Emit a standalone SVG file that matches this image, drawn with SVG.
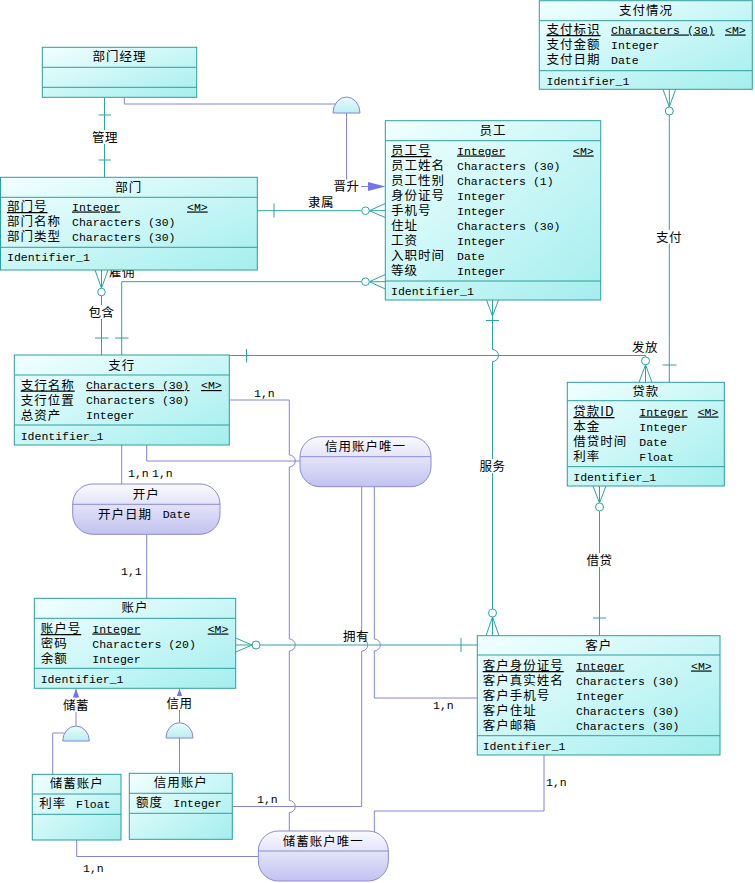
<svg xmlns="http://www.w3.org/2000/svg" width="755" height="883" viewBox="0 0 755 883">
<defs>
<linearGradient id="ge" x1="0" y1="0" x2="1" y2="1">
<stop offset="0" stop-color="#f2ffff"/>
<stop offset="1" stop-color="#a4eeee"/>
</linearGradient>
<linearGradient id="ga" x1="0" y1="0" x2="0" y2="1">
<stop offset="0" stop-color="#fafaff"/>
<stop offset="1" stop-color="#c2c2f0"/>
</linearGradient>
<linearGradient id="gd" x1="0" y1="0" x2="0" y2="1">
<stop offset="0" stop-color="#e8fcfd"/>
<stop offset="1" stop-color="#bceef2"/>
</linearGradient>
</defs>
<style>
.e{fill:url(#ge);stroke:#2e9e9e;stroke-width:1}
.d{stroke:#2e9e9e;stroke-width:1}
.a{fill:url(#ga);stroke:#8a8ad6;stroke-width:1}
.ad{stroke:#8a8ad6;stroke-width:1}
.t{stroke:#2ea3a3;fill:none;stroke-width:1}
.p{stroke:#8484dc;fill:none;stroke-width:1}
.c{fill:#fff;stroke:#2ea3a3;stroke-width:1}
.dome{fill:url(#gd);stroke:#8484dc;stroke-width:1}
.arr{fill:#7373ee;stroke:none}
.bg{fill:#fff;stroke:none}
.cn{font-family:"Noto Sans CJK SC","Noto Sans CJK JP",sans-serif;font-size:12.5px;letter-spacing:1px;fill:#000}
.lb{font-family:"Noto Sans CJK SC","Noto Sans CJK JP",sans-serif;font-size:12.5px;letter-spacing:0.5px;fill:#000}
.m{font-family:"Liberation Mono","DejaVu Sans Mono",monospace;font-size:11.5px;fill:#000}
.u{text-decoration:underline}
.mid{text-anchor:middle}
</style>

<g id="connectors">
<!-- 管理 -->
<path class="t" d="M104.5,97.3 V177.3 M98.5,115 H111 M98.5,160 H111"/>
<!-- 隶属 -->
<path class="t" d="M257.3,210.7 H361.7 M274,203.5 V217.5 M369.3,210.7 L385.3,203.5 M369.3,210.7 H385.3 M369.3,210.7 L385.3,217.5"/>
<circle class="c" cx="365.5" cy="210.7" r="3.8"/>
<!-- 雇佣 -->
<path class="t" d="M121.7,355 V281.7 H361.7 M115,338 H128.5 M369.3,281.7 L385.3,274.5 M369.3,281.7 H385.3 M369.3,281.7 L385.3,289"/>
<circle class="c" cx="365.5" cy="281.7" r="3.8"/>
<text class="lb" x="109" y="276.5">雇佣</text>
<!-- 包含 -->
<path class="t" d="M101.5,355 V295.8 M101.5,288.2 L95,270 M101.5,288.2 V270 M101.5,288.2 L108,270 M95,338 H108.5"/>
<circle class="c" cx="101.5" cy="292" r="3.8"/>
<!-- 发放 -->
<path class="t" d="M229.3,355.5 H645.5 V356.8 M246.5,349 V362.5 M645.5,364.8 L639,382.3 M645.5,364.8 V382.3 M645.5,364.8 L652,382.3"/>
<circle class="c" cx="645.5" cy="360.8" r="4"/>
<!-- 支付 -->
<path class="t" d="M663,89.3 L669.3,107 M669.3,89.3 V107 M675.6,89.3 L669.3,107 M669.3,115 V382.3 M662.5,365 H676.5"/>
<circle class="c" cx="669.3" cy="111" r="4"/>
<!-- 借贷 -->
<path class="t" d="M593,486 L599.5,503 M599.5,486 V503 M606,486 L599.5,503 M599.5,511 V635.7 M593,618 H606"/>
<circle class="c" cx="599.5" cy="507" r="4"/>
<!-- 服务 -->
<path class="t" d="M486.5,300 L492.5,316 M492.5,300 V316 M498.5,300 L492.5,316 M492.5,316 V349.5 A6,6 0 0 1 492.5,361.5 V609 M486,320.5 H499 M492.5,617 L486,635.7 M492.5,617 V635.7 M492.5,617 L499,635.7"/>
<circle class="c" cx="492.5" cy="613" r="4"/>
<!-- 拥有 -->
<path class="t" d="M235.7,638 L252,645 M235.7,645 H252 M235.7,652 L252,645 M260,645 H477.3 M461,638 V652"/>
<circle class="c" cx="256" cy="645" r="4"/>

<!-- 晋升 -->
<path class="p" d="M124.3,97.3 V104 H336.5 M346.5,113 V186.5 H369"/>
<path class="dome" d="M333,113 A13.5,16 0 0 1 360,113 Z"/>
<polygon class="arr" points="368,182 385.3,186.5 368,191"/>
<!-- 储蓄 -->
<path class="p" d="M76,689 V726 M64.5,733 H52.7 V774.3"/>
<path class="dome" d="M62.7,741 A13.3,15 0 0 1 89.3,741 Z"/>
<polygon class="arr" points="72.8,697.5 76,688.8 79.2,697.5"/>
<!-- 信用 -->
<path class="p" d="M179.5,689 V723 M179.5,738 V773.3"/>
<path class="dome" d="M166,738 A13.5,15.3 0 0 1 193,738 Z"/>
<polygon class="arr" points="176.3,697.5 179.5,688.8 182.7,697.5"/>

<!-- 开户 -->
<path class="p" d="M121.7,445 V484 M146.7,534.3 V598.3"/>
<!-- 支行-储蓄账户唯一 -->
<path class="p" d="M229.3,400 H289.3 V455 A6,6 0 0 1 289.3,467 V639 A6,6 0 0 1 289.3,651 V800.5 A6,6 0 0 1 289.3,812.5 V831"/>
<!-- 支行-信用账户唯一 -->
<path class="p" d="M146.7,445 V461 H300"/>
<!-- 信用账户-信用账户唯一 -->
<path class="p" d="M232.3,806.5 H361.7 V651 A6,6 0 0 0 361.7,639 V486.7"/>
<!-- 客户-信用账户唯一 -->
<path class="p" d="M477.3,698 H374.3 V651 A6,6 0 0 0 374.3,639 V486.7"/>
<!-- 客户-储蓄账户唯一 -->
<path class="p" d="M544,755 V811 H374.3 V832"/>
<!-- 储蓄账户-储蓄账户唯一 -->
<path class="p" d="M76.7,840 V856.5 H258.3"/>

<!-- labels -->
<rect class="bg" x="91" y="130" width="28" height="14"/>
<text class="lb mid" x="105" y="141.5">管理</text>
<text class="lb mid" x="321" y="206.5">隶属</text>
<rect class="bg" x="333" y="179.5" width="28" height="14"/>
<text class="lb mid" x="346.5" y="191">晋升</text>
<rect class="bg" x="88" y="305" width="28" height="14"/>
<text class="lb mid" x="101.5" y="317">包含</text>
<rect class="bg" x="655" y="230" width="28" height="14"/>
<text class="lb mid" x="669" y="241.5">支付</text>
<text class="lb mid" x="645" y="351.5">发放</text>
<rect class="bg" x="478.5" y="459" width="28" height="14"/>
<text class="lb mid" x="492.5" y="470.5">服务</text>
<rect class="bg" x="585.5" y="553" width="28" height="14"/>
<text class="lb mid" x="599.5" y="564.5">借贷</text>
<text class="lb mid" x="356" y="640.5">拥有</text>
<rect class="bg" x="62" y="698" width="28" height="14"/>
<text class="lb mid" x="76" y="709.5">储蓄</text>
<rect class="bg" x="165.5" y="696" width="28" height="14"/>
<text class="lb mid" x="179.5" y="707.5">信用</text>
<text class="m" x="254" y="397">1,n</text>
<text class="m" x="128" y="476.5">1,n</text>
<text class="m" x="152" y="476.5">1,n</text>
<text class="m" x="121" y="574.5">1,1</text>
<text class="m" x="257" y="802.5">1,n</text>
<text class="m" x="433" y="708.5">1,n</text>
<text class="m" x="546" y="786">1,n</text>
<text class="m" x="83" y="871.5">1,n</text>
</g>

<g id="n-bumenjingli">
<rect class="e" x="42.3" y="47.3" width="154.4" height="50"/>
<path class="d" d="M42.3,67.3 H196.7 M42.3,87.3 H196.7"/>
<text class="cn mid" x="119.5" y="61">部门经理</text>
</g>

<g id="n-bumen">
<rect class="e" x="0.5" y="177.3" width="256.8" height="92.7"/>
<path class="d" d="M0.5,197.3 H257.3 M0.5,247.3 H257.3"/>
<text class="cn mid" x="128.7" y="192">部门</text>
<text class="cn u" x="7" y="211">部门号</text><text class="m u" x="72" y="210.5">Integer</text><text class="m u" x="187" y="210.5">&lt;M&gt;</text>
<text class="cn" x="7" y="226">部门名称</text><text class="m" x="72" y="225.5">Characters (30)</text>
<text class="cn" x="7" y="241">部门类型</text><text class="m" x="72" y="240.5">Characters (30)</text>
<text class="m" x="7" y="260.5">Identifier_1</text>
</g>

<g id="n-yuangong">
<rect class="e" x="385.3" y="120.7" width="215.4" height="179.3"/>
<path class="d" d="M385.3,140.7 H600.7 M385.3,281 H600.7"/>
<text class="cn mid" x="493" y="135">员工</text>
<text class="cn u" x="391" y="155">员工号</text><text class="m u" x="457" y="154.5">Integer</text><text class="m u" x="573" y="154.5">&lt;M&gt;</text>
<text class="cn" x="391" y="170">员工姓名</text><text class="m" x="457" y="169.5">Characters (30)</text>
<text class="cn" x="391" y="185">员工性别</text><text class="m" x="457" y="184.5">Characters (1)</text>
<text class="cn" x="391" y="200">身份证号</text><text class="m" x="457" y="199.5">Integer</text>
<text class="cn" x="391" y="215">手机号</text><text class="m" x="457" y="214.5">Integer</text>
<text class="cn" x="391" y="230">住址</text><text class="m" x="457" y="229.5">Characters (30)</text>
<text class="cn" x="391" y="245">工资</text><text class="m" x="457" y="244.5">Integer</text>
<text class="cn" x="391" y="260">入职时间</text><text class="m" x="457" y="259.5">Date</text>
<text class="cn" x="391" y="275">等级</text><text class="m" x="457" y="274.5">Integer</text>
<text class="m" x="391" y="294.5">Identifier_1</text>
</g>

<g id="n-zhifuqingkuang">
<rect class="e" x="539.3" y="0.7" width="213" height="88.6"/>
<path class="d" d="M539.3,20.7 H752.3 M539.3,70.7 H752.3"/>
<text class="cn mid" x="646" y="15">支付情况</text>
<text class="cn u" x="546.5" y="34">支付标识</text><text class="m u" x="611" y="33.5">Characters (30)</text><text class="m u" x="725" y="33.5">&lt;M&gt;</text>
<text class="cn" x="546.5" y="49">支付金额</text><text class="m" x="611" y="48.5">Integer</text>
<text class="cn" x="546.5" y="64">支付日期</text><text class="m" x="611" y="63.5">Date</text>
<text class="m" x="546.5" y="84.5">Identifier_1</text>
</g>

<g id="n-zhihang">
<rect class="e" x="14.3" y="355" width="215" height="90"/>
<path class="d" d="M14.3,375 H229.3 M14.3,425 H229.3"/>
<text class="cn mid" x="121.8" y="369.5">支行</text>
<text class="cn u" x="20.7" y="389.5">支行名称</text><text class="m u" x="86" y="389">Characters (30)</text><text class="m u" x="201" y="389">&lt;M&gt;</text>
<text class="cn" x="20.7" y="404.5">支行位置</text><text class="m" x="86" y="404">Characters (30)</text>
<text class="cn" x="20.7" y="419.5">总资产</text><text class="m" x="86" y="419">Integer</text>
<text class="m" x="20.7" y="439.5">Identifier_1</text>
</g>

<g id="n-daikuan">
<rect class="e" x="567.3" y="382.3" width="157" height="103.7"/>
<path class="d" d="M567.3,400.7 H724.3 M567.3,466.7 H724.3"/>
<text class="cn mid" x="645.8" y="396">贷款</text>
<text class="cn u" x="573.3" y="416">贷款ID</text><text class="m u" x="639.3" y="415.5">Integer</text><text class="m u" x="697.7" y="415.5">&lt;M&gt;</text>
<text class="cn" x="573.3" y="431">本金</text><text class="m" x="639.3" y="430.5">Integer</text>
<text class="cn" x="573.3" y="446">借贷时间</text><text class="m" x="639.3" y="445.5">Date</text>
<text class="cn" x="573.3" y="461">利率</text><text class="m" x="639.3" y="460.5">Float</text>
<text class="m" x="573.3" y="480.5">Identifier_1</text>
</g>

<g id="n-kaihu">
<rect class="a" x="72.7" y="484" width="147.3" height="50.3" rx="20" ry="20"/>
<path class="ad" d="M72.7,504.3 H220"/>
<text class="cn mid" x="146.3" y="498.5">开户</text>
<text class="cn" x="98" y="518.5">开户日期</text><text class="m" x="162.7" y="518">Date</text>
</g>

<g id="n-xinyongweiyi">
<rect class="a" x="300" y="436.7" width="131" height="50" rx="20" ry="20"/>
<path class="ad" d="M300,456.7 H431"/>
<text class="cn mid" x="365.5" y="451">信用账户唯一</text>
</g>

<g id="n-zhanghu">
<rect class="e" x="34.3" y="598.3" width="201.4" height="90"/>
<path class="d" d="M34.3,618.3 H235.7 M34.3,668.3 H235.7"/>
<text class="cn mid" x="135" y="612">账户</text>
<text class="cn u" x="40.7" y="633">账户号</text><text class="m u" x="92.3" y="632.5">Integer</text><text class="m u" x="207.7" y="632.5">&lt;M&gt;</text>
<text class="cn" x="40.7" y="648">密码</text><text class="m" x="92.3" y="647.5">Characters (20)</text>
<text class="cn" x="40.7" y="663">余额</text><text class="m" x="92.3" y="662.5">Integer</text>
<text class="m" x="40.7" y="682.5">Identifier_1</text>
</g>

<g id="n-kehu">
<rect class="e" x="477.3" y="635.7" width="242.7" height="119.3"/>
<path class="d" d="M477.3,655 H720 M477.3,735.7 H720"/>
<text class="cn mid" x="598.7" y="649.5">客户</text>
<text class="cn u" x="482.7" y="670">客户身份证号</text><text class="m u" x="576" y="669.5">Integer</text><text class="m u" x="691" y="669.5">&lt;M&gt;</text>
<text class="cn" x="482.7" y="685">客户真实姓名</text><text class="m" x="576" y="684.5">Characters (30)</text>
<text class="cn" x="482.7" y="700">客户手机号</text><text class="m" x="576" y="699.5">Integer</text>
<text class="cn" x="482.7" y="715">客户住址</text><text class="m" x="576" y="714.5">Characters (30)</text>
<text class="cn" x="482.7" y="730">客户邮箱</text><text class="m" x="576" y="729.5">Characters (30)</text>
<text class="m" x="482.7" y="749.5">Identifier_1</text>
</g>

<g id="n-chuxuzhanghu">
<rect class="e" x="32.3" y="774.3" width="88.7" height="65.7"/>
<path class="d" d="M32.3,794 H121 M32.3,814.3 H121"/>
<text class="cn mid" x="76.7" y="788">储蓄账户</text>
<text class="cn" x="39.3" y="808">利率</text><text class="m" x="76" y="807.5">Float</text>
</g>

<g id="n-xinyongzhanghu">
<rect class="e" x="129.3" y="773.3" width="103" height="66"/>
<path class="d" d="M129.3,793.3 H232.3 M129.3,813.3 H232.3"/>
<text class="cn mid" x="180.8" y="787">信用账户</text>
<text class="cn" x="136" y="807">额度</text><text class="m" x="173.3" y="806.5">Integer</text>
</g>

<g id="n-chuxuweiyi">
<rect class="a" x="258.3" y="831" width="130" height="50" rx="20" ry="20"/>
<path class="ad" d="M258.3,851 H388.3"/>
<text class="cn mid" x="323.3" y="845.5">储蓄账户唯一</text>
</g>
</svg>
